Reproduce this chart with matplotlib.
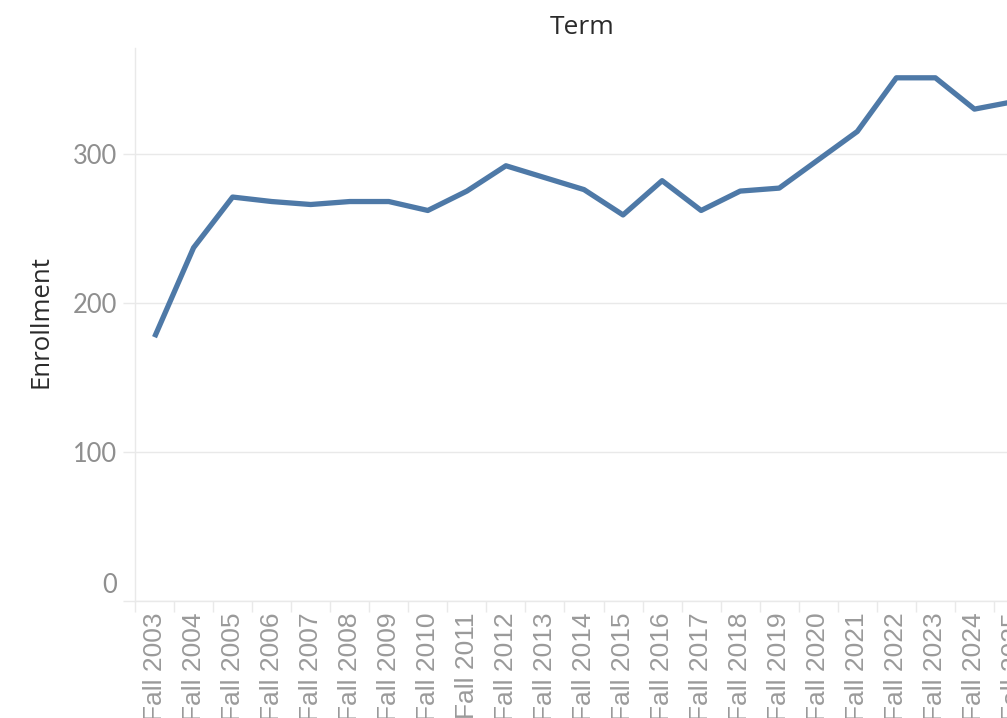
import matplotlib
matplotlib.use("Agg")
import matplotlib.pyplot as plt
import matplotlib.transforms as mtransforms
import numpy as np

# 数据
terms = ["Fall 2003", "Fall 2004", "Fall 2005", "Fall 2006", "Fall 2007", "Fall 2008",
         "Fall 2009", "Fall 2010", "Fall 2011", "Fall 2012", "Fall 2013", "Fall 2014",
         "Fall 2015", "Fall 2016", "Fall 2017", "Fall 2018", "Fall 2019", "Fall 2020",
         "Fall 2021", "Fall 2022", "Fall 2023", "Fall 2024", "Fall 2025"]
enrollment = [177, 237, 271, 268, 266, 268, 268, 262, 275, 292, 284, 276,
              259, 282, 262, 275, 277, 296, 315, 351, 351, 330, 335]
y_ticks = [0, 100, 200, 300]

W, H = 1007, 718
fig = plt.figure(figsize=(W / 100, H / 100), dpi=100)

# 右侧被裁切，坐标轴延伸到画布外
left, right, top, bottom = 135, 1033, 48, 601
ax = fig.add_axes([left / W, 1 - bottom / H, (right - left) / W, (bottom - top) / H])

x = np.arange(len(terms))
ax.plot(x, enrollment, color="#4e79a7", linewidth=3.8, solid_joinstyle="round",
        solid_capstyle="butt", zorder=3)

ax.set_xlim(-0.5, len(terms) - 0.5)
ax.set_ylim(0, 371)

grid_c = "#e9e9e9"
for s in ["top", "right"]:
    ax.spines[s].set_visible(False)
ax.spines["left"].set_color(grid_c)
ax.spines["bottom"].set_color(grid_c)
ax.spines["left"].set_linewidth(1)
ax.spines["bottom"].set_linewidth(1)

ax.set_yticks(y_ticks)
ax.set_yticklabels([str(v) for v in y_ticks])
ax.yaxis.grid(True, color=grid_c, linewidth=1)
ax.set_axisbelow(True)
ax.tick_params(axis="y", length=9, color=grid_c, width=1, pad=4,
               labelsize=18.4, labelcolor="#8f8f8f")
for lab in ax.get_yticklabels():
    lab.set_fontfamily("Lato")

# 0 标签上移
zero = ax.get_yticklabels()[0]
zero.set_transform(zero.get_transform() +
                   mtransforms.ScaledTranslation(0, 18 / 100, fig.dpi_scale_trans))

ax.set_xticks(x)
ax.set_xticklabels(terms, rotation=90, va="top", ha="center")
ax.set_xticks(np.arange(-0.5, len(terms), 1), minor=True)
ax.tick_params(axis="x", which="major", length=0, pad=8,
               labelsize=19, labelcolor="#9a9a9a")
ax.tick_params(axis="x", which="minor", length=8, color=grid_c, width=1)
for lab in ax.get_xticklabels():
    lab.set_fontfamily("Liberation Sans")

ax.set_ylabel("Enrollment", fontsize=18.5, color="#2a2a2a", family="Open Sans",
              weight="medium")
ax.yaxis.set_label_coords(-(135 - 53) / (right - left), 0.5 + (601 - 321.5 - 276.5) / (bottom - top))
fig.text(582 / W, 1 - 28 / H, "Term", ha="center", va="center",
         fontsize=19, color="#2a2a2a", family="Open Sans", weight="medium")

fig.savefig("out.png", dpi=100)
